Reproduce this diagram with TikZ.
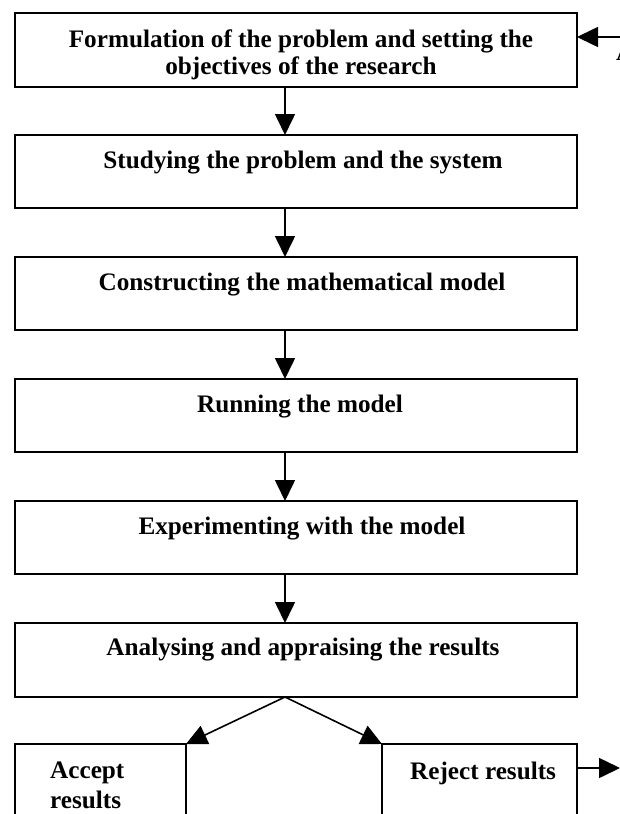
\documentclass[tikz,border=0pt]{standalone}
\usepackage{fontspec}
\setmainfont{Liberation Serif}
\usetikzlibrary{arrows.meta}
\tikzset{
  box/.style={draw, line width=1.8pt, inner sep=0pt, outer sep=0pt, rectangle},
  lbl/.style={font=\fontsize{25.2}{27}\selectfont\bfseries, inner sep=0pt, anchor=base},
  arr/.style={line width=1.6pt, -{Triangle[length=21pt,width=20pt]}}
}
\begin{document}
\begin{tikzpicture}[x=1pt,y=1pt]
\useasboundingbox (0,0) rectangle (620,-814);
% boxes
\node[box, minimum width=562pt, minimum height=74pt] (b1) at (296,-50) {};
\node[box, minimum width=562pt, minimum height=73pt] (b2) at (296,-171.5) {};
\node[box, minimum width=562pt, minimum height=73pt] (b3) at (296,-293.5) {};
\node[box, minimum width=562pt, minimum height=73pt] (b4) at (296,-415.5) {};
\node[box, minimum width=562pt, minimum height=73pt] (b5) at (296,-537.5) {};
\node[box, minimum width=562pt, minimum height=74pt] (b6) at (296,-660) {};
\node[box, minimum width=171pt, minimum height=96pt] (acc) at (100.5,-792) {};
\node[box, minimum width=195pt, minimum height=96pt] (rej) at (479.5,-792) {};
% texts
\node[lbl] (t1a) at (301,-47) {Formulation of the problem and setting the};
\node[lbl] (t1b) at (301,-74) {objectives of the research};
\node[lbl] (t2) at (303,-168) {Studying the problem and the system};
\node[lbl] (t3) at (302,-290) {Constructing the mathematical model};
\node[lbl] (t4) at (300,-412) {Running the model};
\node[lbl] (t5) at (302,-534) {Experimenting with the model};
\node[lbl] (t6) at (303,-655) {Analysing and appraising the results};
\node[lbl, anchor=base west] (ta1) at (50,-778) {Accept};
\node[lbl, anchor=base west] (ta2) at (50,-808) {results};
\node[lbl, anchor=base west] (tr) at (410,-779) {Reject results};
\node[lbl, anchor=base west] (tA) at (616,-60) {A};
% connectors
\draw[arr] ([xshift=-11pt]b1.south) -- ([xshift=-11pt]b2.north);
\draw[arr] ([xshift=-11pt]b2.south) -- ([xshift=-11pt]b3.north);
\draw[arr] ([xshift=-11pt]b3.south) -- ([xshift=-11pt]b4.north);
\draw[arr] ([xshift=-11pt]b4.south) -- ([xshift=-11pt]b5.north);
\draw[arr] ([xshift=-11pt]b5.south) -- ([xshift=-11pt]b6.north);
\coordinate (apex) at ([xshift=-11pt]b6.south);
\draw[arr] (apex) -- (acc.north east);
\draw[arr] (apex) -- (rej.north west);
\coordinate (rout) at (620,-768);
\draw[arr] ([yshift=24pt]rej.east) -- (rout);
\coordinate (tin) at (620,-37);
\draw[arr] (tin) -- ([yshift=13pt]b1.east);
\end{tikzpicture}
\end{document}
